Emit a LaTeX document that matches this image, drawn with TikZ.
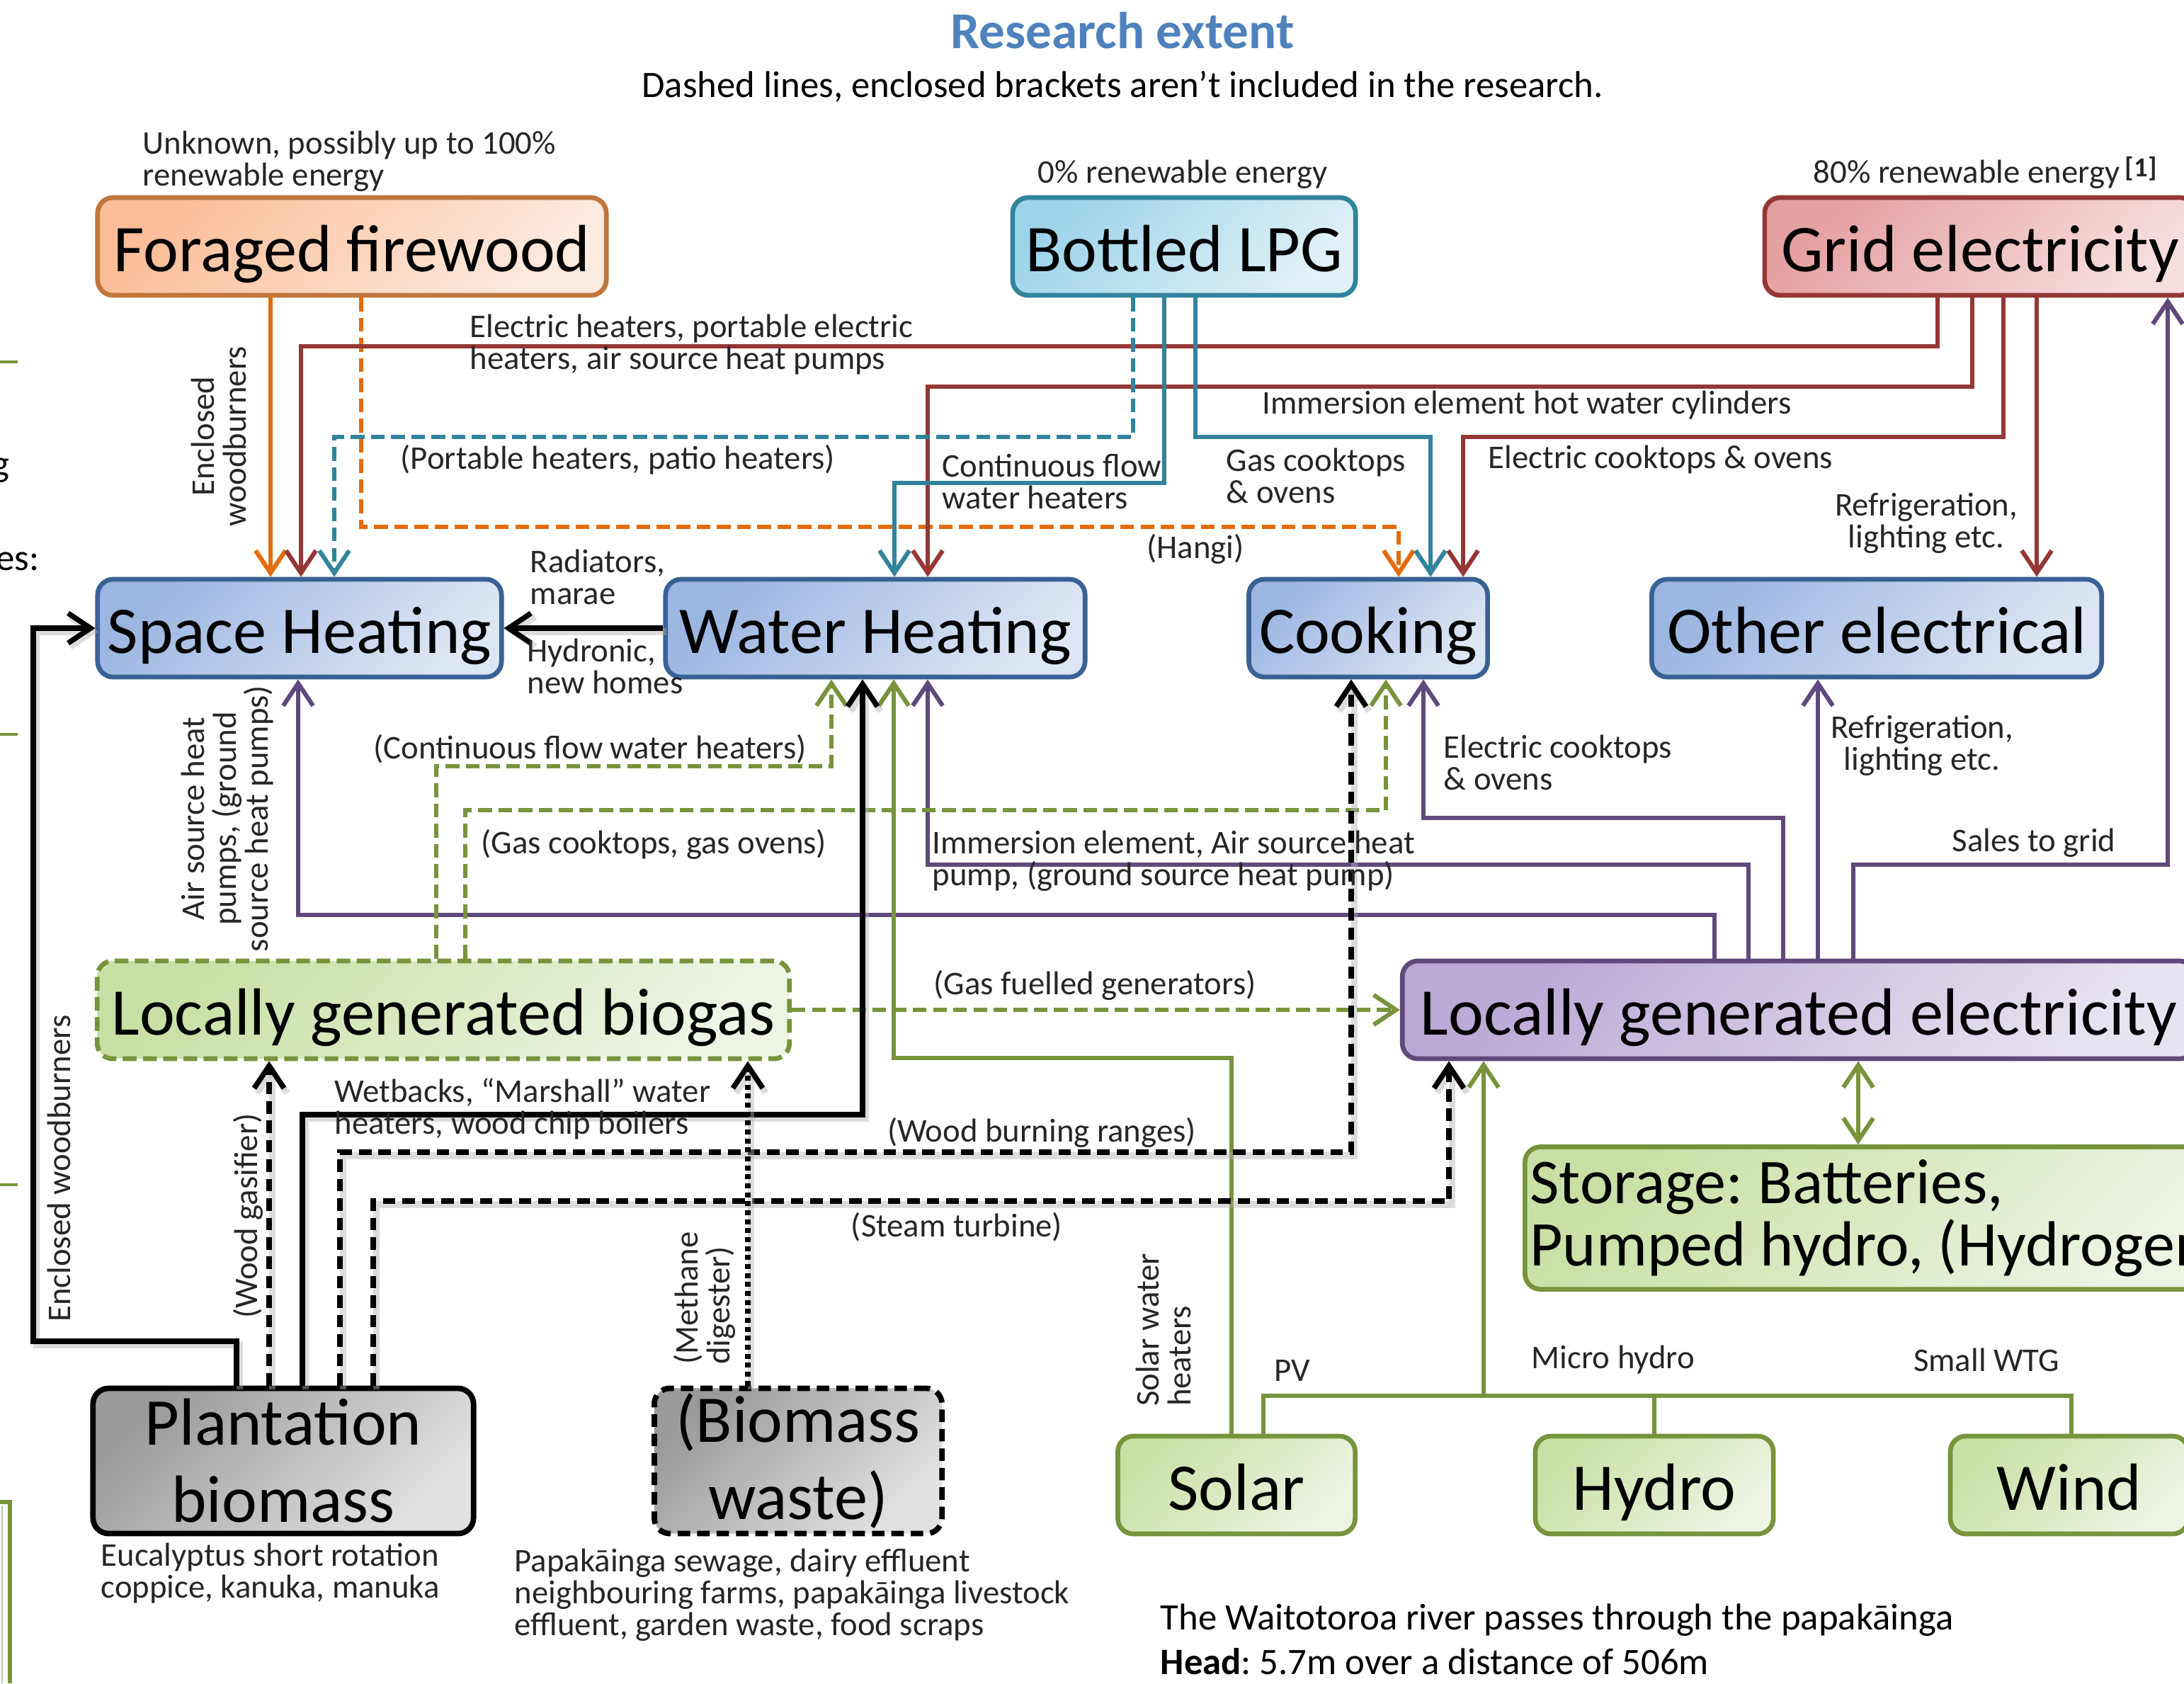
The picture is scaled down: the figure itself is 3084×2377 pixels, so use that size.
\documentclass[tikz,border=0pt]{standalone}
\usepackage{fontspec}
\setmainfont{Carlito}
\usetikzlibrary{arrows.meta}
\definecolor{cOr}{HTML}{E46C0A}
\definecolor{cOrB}{HTML}{C0763C}
\definecolor{ffA}{HTML}{FBBE98}
\definecolor{ffB}{HTML}{FDEADF}
\definecolor{cTe}{HTML}{31849B}
\definecolor{lpA}{HTML}{9DD4E9}
\definecolor{lpB}{HTML}{E0F1F8}
\definecolor{cRd}{HTML}{953735}
\definecolor{grA}{HTML}{E5A0A0}
\definecolor{grB}{HTML}{F7DEDE}
\definecolor{cBl}{HTML}{3A6194}
\definecolor{blA}{HTML}{9CB6E2}
\definecolor{blB}{HTML}{DDE6F4}
\definecolor{cGr}{HTML}{77933C}
\definecolor{gnA}{HTML}{C9E0A5}
\definecolor{gnB}{HTML}{EDF4E3}
\definecolor{cPu}{HTML}{5F497A}
\definecolor{puA}{HTML}{BBA9D6}
\definecolor{puB}{HTML}{E8E3F1}
\definecolor{gyA}{HTML}{9A9A9A}
\definecolor{gyB}{HTML}{E2E2E2}
\definecolor{cTitle}{HTML}{4F81BD}
\newcommand\bigf{\fontsize{26.8}{31}\selectfont}
\newcommand\stf{\fontsize{25.6}{25}\selectfont}
\newcommand\lblf{\fontsize{13.3}{12.8}\selectfont}
\newcommand\medf{\fontsize{15}{17.9}\selectfont}
\frenchspacing
\begin{document}
\frenchspacing
\begin{tikzpicture}[x=0.01cm,y=-0.01cm,
  box/.style={draw, rounded corners=0.22cm, line width=1.9pt, inner sep=0pt, font=\bigf, align=center},
  one/.style={text height=20pt, text depth=0pt},
  con/.style={line width=1.75pt},
  kshadow/.style={preaction={draw=black!30, opacity=0.45, line width=2.6pt, transform canvas={xshift=1.2pt, yshift=-1.4pt}}},
  kcon/.style={line width=2.1pt, black, kshadow},
  arr/.style={-{Straight Barb[length=9pt,width=12pt]}},
  dsh/.style={dash pattern=on 5.5pt off 2.6pt},
  kdsh/.style={dash pattern=on 5pt off 2.8pt},
  lbl/.style={font=\lblf, inner sep=0pt, text=black!85},
]
\useasboundingbox (0,0) rectangle (3084,2377);
\clip (0,0) rectangle (3084,2377);

% ---------- titles ----------
\node[font=\fontsize{20.8}{24}\selectfont\bfseries, text=cTitle, inner sep=0pt] (title) at (1585,43) {Research extent};
\node[font=\medf, inner sep=0pt] (sub) at (1585,122) {Dashed lines, enclosed brackets aren’t included in the research.};

% ---------- partial left-edge items ----------
\draw[cGr, line width=1.3pt] (0,511) -- (25,511);
\draw[cGr, line width=1.3pt] (0,1037) -- (25,1037);
\draw[cGr, line width=1.3pt] (0,1673) -- (25,1673);
\draw[cGr, line width=1.5pt] (0,2121) -- (14,2121) -- (14,2377);
\draw[black!25, line width=0.8pt] (3,2126) -- (3,2377);
\node[font=\medf, inner sep=0pt, anchor=base east] (edg) at (14,672) {g};
\node[font=\medf, inner sep=0pt, anchor=base east] (edes) at (56,805) {es:};

% ---------- source nodes ----------
\node[box, one, draw=cOrB, left color=ffA, right color=ffB, shading angle=45, minimum width=7.18cm, minimum height=1.38cm] (ff) at (497,348) {Foraged firewood};
\node[box, one, draw=cTe, left color=lpA, right color=lpB, shading angle=45, minimum width=4.84cm, minimum height=1.38cm] (lpg) at (1672,348) {Bottled LPG};
\node[box, one, draw=cRd, left color=grA, right color=grB, shading angle=45, minimum width=6.08cm, minimum height=1.38cm] (gr) at (2796,348) {Grid electricity};

% ---------- use nodes ----------
\node[box, one, draw=cBl, left color=blA, right color=blB, shading angle=45, minimum width=5.70cm, minimum height=1.38cm] (sh) at (423,887) {Space Heating};
\node[box, one, draw=cBl, left color=blA, right color=blB, shading angle=45, minimum width=5.92cm, minimum height=1.38cm] (wh) at (1236,887) {Water Heating};
\node[box, one, draw=cBl, left color=blA, right color=blB, shading angle=45, minimum width=3.37cm, minimum height=1.38cm] (ck) at (1932,887) {Cooking};
\node[box, one, draw=cBl, left color=blA, right color=blB, shading angle=45, minimum width=6.35cm, minimum height=1.38cm] (oe) at (2650,887) {Other electrical};

% ---------- local generation ----------
\node[box, one, draw=cGr, dsh, left color=gnA, right color=gnB, shading angle=45, minimum width=9.77cm, minimum height=1.38cm] (bg) at (626,1426) {Locally generated biogas};
\node[box, one, draw=cPu, left color=puA, right color=puB, shading angle=45, minimum width=11.19cm, minimum height=1.38cm] (le) at (2540,1426) {Locally generated electricity};
\node[box, draw=cGr, left color=gnA, right color=gnB, shading angle=45, minimum height=2.01cm, inner xsep=0.07cm, align=left, font=\stf, anchor=west] (st) at (2150,1720) {Storage: Batteries,\\Pumped hydro, (Hydrogen)};

% ---------- primary sources ----------
\node[box, draw=black, line width=2.2pt, left color=gyA, right color=gyB, shading angle=45, minimum width=5.37cm, minimum height=2.05cm] (pb) at (400,2063) {Plantation\\biomass};
\node[box, draw=black, line width=2.2pt, kdsh, left color=gyA, right color=gyB, shading angle=45, minimum width=4.06cm, minimum height=2.05cm] (bw) at (1127,2063) {(Biomass\\waste)};
\node[box, one, draw=cGr, left color=gnA, right color=gnB, shading angle=45, minimum width=3.35cm, minimum height=1.38cm] (so) at (1746,2097) {Solar};
\node[box, one, draw=cGr, left color=gnA, right color=gnB, shading angle=45, minimum width=3.36cm, minimum height=1.38cm] (hy) at (2336,2097) {Hydro};
\node[box, one, draw=cGr, left color=gnA, right color=gnB, shading angle=45, minimum width=3.36cm, minimum height=1.38cm] (wi) at (2922,2097) {Wind};

% ---------- bend coordinates ----------
\coordinate (o1) at (382,600);
\coordinate (o2a) at (510,744);   \coordinate (o2b) at (1975,744);
\coordinate (r1a) at (2736,489);  \coordinate (r1b) at (425,489);
\coordinate (r2a) at (2785,546);  \coordinate (r2b) at (1310,546);
\coordinate (r3a) at (2829,617);  \coordinate (r3b) at (2066,617);
\coordinate (r4) at (2876,600);
\coordinate (t1a) at (1600,617);  \coordinate (t1b) at (472,617);
\coordinate (t2a) at (1644,682);  \coordinate (t2b) at (1263,682);
\coordinate (t3a) at (1688,617);  \coordinate (t3b) at (2020,617);
\coordinate (k2a) at (334,1894);  \coordinate (k2b) at (47,1894);
\coordinate (k3) at (380,1700);
\coordinate (k4a) at (427,1574);  \coordinate (k4b) at (1218,1574);
\coordinate (k5a) at (480,1627);  \coordinate (k5b) at (1908,1627);
\coordinate (k6a) at (527,1696);  \coordinate (k6b) at (2046,1696);
\coordinate (k7) at (1056,1700);
\coordinate (g1a) at (616,1082);  \coordinate (g1b) at (1174,1082);
\coordinate (g2a) at (657,1144);  \coordinate (g2b) at (1957,1144);
\coordinate (g4a) at (1739,1494); \coordinate (g4b) at (1262,1494);
\coordinate (g5a) at (1784,1971); \coordinate (g5b) at (2095,1971); \coordinate (g5c) at (2925,1971);
\coordinate (s1) at (2624,1550);
\coordinate (p1a) at (2421,1292); \coordinate (p1b) at (421,1292);
\coordinate (p2a) at (2469,1221); \coordinate (p2b) at (1310,1221);
\coordinate (p3a) at (2518,1155); \coordinate (p3b) at (2010,1155);
\coordinate (p4) at (2567,1100);
\coordinate (p5a) at (2617,1221); \coordinate (p5b) at (3061,1221);

% ---------- orange ----------
\draw[con, cOr, arr] (ff.south -| o1) -- (sh.north -| o1);
\draw[con, cOr, dsh, arr] (ff.south -| o2a) -- (o2a) -- (o2b) -- (ck.north -| o2b);
% ---------- red ----------
\draw[con, cRd, arr] (gr.south -| r1a) -- (r1a) -- (r1b) -- (sh.north -| r1b);
\draw[con, cRd, arr] (gr.south -| r2a) -- (r2a) -- (r2b) -- (wh.north -| r2b);
\draw[con, cRd, arr] (gr.south -| r3a) -- (r3a) -- (r3b) -- (ck.north -| r3b);
\draw[con, cRd, arr] (gr.south -| r4) -- (oe.north -| r4);
% ---------- teal ----------
\draw[con, cTe, dsh, arr] (lpg.south -| t1a) -- (t1a) -- (t1b) -- (sh.north -| t1b);
\draw[con, cTe, arr] (lpg.south -| t2a) -- (t2a) -- (t2b) -- (wh.north -| t2b);
\draw[con, cTe, arr] (lpg.south -| t3a) -- (t3a) -- (t3b) -- (ck.north -| t3b);
% ---------- purple ----------
\draw[con, cPu, arr] (le.north -| p1a) -- (p1a) -- (p1b) -- (sh.south -| p1b);
\draw[con, cPu, arr] (le.north -| p2a) -- (p2a) -- (p2b) -- (wh.south -| p2b);
\draw[con, cPu, arr] (le.north -| p3a) -- (p3a) -- (p3b) -- (ck.south -| p3b);
\draw[con, cPu, arr] (le.north -| p4) -- (oe.south -| p4);
\draw[con, cPu, arr] (le.north -| p5a) -- (p5a) -- (p5b) -- (gr.south -| p5b);
% ---------- green ----------
\draw[con, cGr, dsh, arr] (bg.north -| g1a) -- (g1a) -- (g1b) -- (wh.south -| g1b);
\draw[con, cGr, dsh, arr] (bg.north -| g2a) -- (g2a) -- (g2b) -- (ck.south -| g2b);
\draw[con, cGr, dsh, arr] (bg.east) -- (le.west);
\draw[con, cGr, arr] (so.north -| g4a) -- (g4a) -- (g4b) -- (wh.south -| g4b);
\draw[con, cGr] (so.north -| g5a) -- (g5a) -- (g5c) -- (wi.north -| g5c);
\draw[con, cGr] (hy.north) -- (hy.north |- g5a);
\draw[con, cGr, arr] (g5b) -- (le.south -| g5b);
\draw[con, cGr, {Straight Barb[length=9pt,width=12pt]}-{Straight Barb[length=9pt,width=12pt]}] (st.north -| s1) -- (le.south -| s1);
% ---------- black ----------
\draw[kcon, arr] (wh.west) -- (sh.east);
\draw[kcon, arr] (pb.north -| k2a) -- (k2a) -- (k2b) -- (k2b |- sh.west) -- (sh.west);
\draw[kcon, kdsh, arr] (pb.north -| k3) -- (bg.south -| k3);
\draw[kcon, arr] (pb.north -| k4a) -- (k4a) -- (k4b) -- (wh.south -| k4b);
\draw[kcon, kdsh, arr] (pb.north -| k5a) -- (k5a) -- (k5b) -- (ck.south -| k5b);
\draw[kcon, kdsh, arr] (pb.north -| k6a) -- (k6a) -- (k6b) -- (le.south -| k6b);
\draw[kcon, dash pattern=on 2pt off 1.6pt, arr] (bw.north -| k7) -- (bg.south -| k7);

% ---------- labels ----------
\node[lbl, align=left, anchor=west] (lUnk) at (201,228) {Unknown, possibly up to 100\%\\renewable energy};
\node[lbl] (l0) at (1670,246) {0\% renewable energy};
\node[lbl, anchor=west] (l80) at (2560,244) {80\% renewable energy\,\raisebox{2.5pt}{\fontsize{11}{11}\selectfont\bfseries[1]}};
\node[lbl, align=left, anchor=west] (lEH) at (663,487) {Electric heaters, portable electric\\heaters, air source heat pumps};
\node[lbl, anchor=west] (lIE) at (1782,572) {Immersion element hot water cylinders};
\node[lbl, anchor=west] (lEC) at (2101,649) {Electric cooktops \& ovens};
\node[lbl, align=center] (lRef) at (2720,739) {Refrigeration,\\lighting etc.};
\node[lbl, anchor=west] (lPH) at (565,649) {(Portable heaters, patio heaters)};
\node[lbl, align=left, anchor=west] (lCF) at (1330,680) {Continuous flow\\water heaters};
\node[lbl, align=left, anchor=west] (lGC) at (1731,672) {Gas cooktops\\\& ovens};
\node[lbl] (lHa) at (1688,775) {(Hangi)};
\node[lbl, align=center, rotate=90] (lEW) at (309,616) {Enclosed\\woodburners};
\node[lbl, align=left, anchor=west] (lRad) at (748,815) {Radiators,\\marae};
\node[lbl, align=left, anchor=west] (lHyd) at (744,941) {Hydronic,\\new homes};
\node[lbl, align=center, rotate=90] (lAS) at (321,1156) {Air source heat\\pumps, (ground\\source heat pumps)};
\node[lbl, anchor=west] (lCF2) at (527,1058) {(Continuous flow water heaters)};
\node[lbl, anchor=west] (lGC2) at (679,1192) {(Gas cooktops, gas ovens)};
\node[lbl, align=left, anchor=west] (lIE2) at (1316,1216) {Immersion element, Air source heat\\pump, (ground source heat pump)};
\node[lbl, align=left, anchor=west] (lEC2) at (2038,1077) {Electric cooktops\\\& ovens};
\node[lbl, align=center] (lRef2) at (2714,1053) {Refrigeration,\\lighting etc.};
\node[lbl] (lSG) at (2872,1190) {Sales to grid};
\node[lbl] (lGF) at (1546,1391) {(Gas fuelled generators)};
\node[lbl, rotate=90] (lEW2) at (83,1650) {Enclosed woodburners};
\node[lbl, rotate=90] (lWG) at (350,1717) {(Wood gasifier)};
\node[lbl, align=left, anchor=west] (lWB) at (472,1566) {Wetbacks, “Marshall” water\\heaters, wood chip boilers};
\node[lbl] (lWR) at (1471,1599) {(Wood burning ranges)};
\node[lbl] (lST) at (1351,1733) {(Steam turbine)};
\node[lbl, align=left, rotate=90] (lMD) at (995,1833) {(Methane\\digester)};
\node[lbl, align=left, rotate=90] (lSW) at (1643,1878) {Solar water\\heaters};
\node[lbl] (lPV) at (1825,1935) {PV};
\node[lbl] (lMH) at (2278,1920) {Micro hydro};
\node[lbl] (lWT) at (2805,1920) {Small WTG};
\node[lbl, align=left, anchor=west] (lEu) at (142,2221) {Eucalyptus short rotation\\coppice, kanuka, manuka};
\node[lbl, align=left, anchor=west] (lPa) at (726,2252) {Papakāinga sewage, dairy effluent\\neighbouring farms, papakāinga livestock\\effluent, garden waste, food scraps};
\node[font=\medf, inner sep=0pt, align=left, anchor=west] (lRiv) at (1638,2315) {The Waitotoroa river passes through the papakāinga\\\textbf{Head}: 5.7m over a distance of 506m};
\end{tikzpicture}
\end{document}
